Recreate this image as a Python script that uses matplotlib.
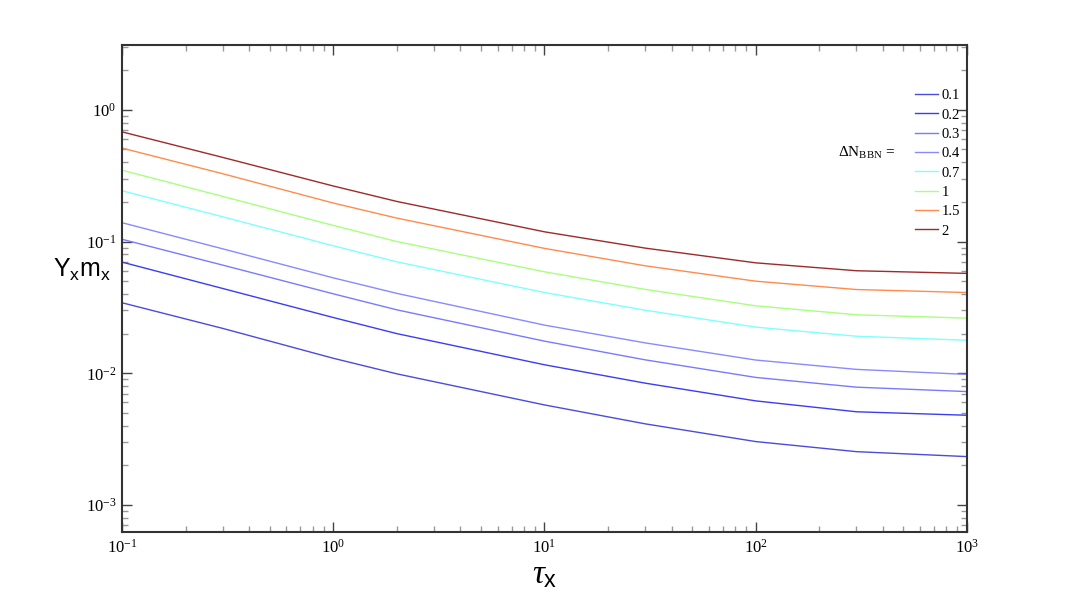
import matplotlib
matplotlib.use("Agg")
import matplotlib.pyplot as plt
import numpy as np
from matplotlib.ticker import LogLocator, FuncFormatter, NullFormatter

plt.rcParams['mathtext.fontset'] = 'custom'
plt.rcParams['mathtext.rm'] = 'Liberation Serif'
plt.rcParams['mathtext.it'] = 'Liberation Serif:italic'
plt.rcParams['mathtext.sf'] = 'Liberation Sans'
plt.rcParams['mathtext.bf'] = 'Liberation Serif:bold'
plt.rcParams['font.family'] = ['Liberation Serif', 'DejaVu Serif']

# Data
tau = [0.1, 0.3, 1, 2, 10, 30, 100, 300, 1000]
delta_n = ['0.1', '0.2', '0.3', '0.4', '0.7', '1', '1.5', '2']
y_01 = [0.0343, 0.0219, 0.0130, 0.0099, 0.00575, 0.00413, 0.00303, 0.00254, 0.00233]
y_02 = [0.0698, 0.0440, 0.0265, 0.0200, 0.0116, 0.00841, 0.00617, 0.0051, 0.0048]
y_03 = [0.104, 0.0662, 0.0401, 0.0303, 0.01753, 0.01264, 0.0093, 0.00784, 0.00726]
y_04 = [0.139, 0.088, 0.053, 0.0404, 0.0232, 0.0170, 0.0126, 0.0107, 0.0098]
y_07 = [0.243, 0.154, 0.0929, 0.0701, 0.041, 0.0301, 0.0224, 0.0191, 0.0178]
y_1 = [0.348, 0.220, 0.1325, 0.100, 0.0589, 0.0433, 0.0325, 0.0278, 0.0262]
y_15 = [0.512, 0.327, 0.196, 0.1506, 0.0887, 0.0654, 0.050, 0.0432, 0.041]
y_2 = [0.68, 0.435, 0.264, 0.2015, 0.1185, 0.0891, 0.0689, 0.060, 0.0573]
series = [y_01, y_02, y_03, y_04, y_07, y_1, y_15, y_2]
colors = ['#4b4bdc', '#3c3cf5', '#7a7aff', '#8a8aff', '#7fffff', '#a8ff80', '#ff8c4c', '#9e2a2a']

fig = plt.figure(figsize=(10.9, 5.99), dpi=100)
ax = fig.add_axes([0.1119, 0.1119, 0.7752, 0.8135])

for lab, ys, c in zip(delta_n, series, colors):
    ax.plot(tau, ys, color=c, lw=1.0, label=lab)

ax.set_xscale('log')
ax.set_yscale('log')
ax.set_xlim(0.1, 1000)
ax.set_ylim(6.24e-4, 3.12)

def fmt(v, pos):
    e = int(round(np.log10(v)))
    return r'$\mathrm{10^{%d}}$' % e

for axis in (ax.xaxis, ax.yaxis):
    axis.set_major_locator(LogLocator(base=10, numticks=20))
    axis.set_minor_locator(LogLocator(base=10, subs=np.arange(2, 10), numticks=20))
    axis.set_major_formatter(FuncFormatter(fmt))
    axis.set_minor_formatter(NullFormatter())

ax.tick_params(which='both', direction='in', top=True, right=True, labelsize=12)
ax.tick_params(which='major', length=7, width=1.0, color='#444444')
ax.tick_params(which='minor', length=4, width=1.0, color='#999999')
ax.tick_params(axis='x', pad=5)
ax.tick_params(axis='y', pad=4)
for s in ax.spines.values():
    s.set_color('#333333')
    s.set_linewidth(1.5)

ax.set_xlabel(r'$\tau_\mathsf{x}$', fontsize=24, labelpad=2)
ax.set_ylabel(r'$\mathsf{Y_x m_x}$', fontsize=18, rotation=0, ha='center', va='center')
ax.yaxis.set_label_coords(-0.047, 0.538)

leg = fig.legend(*ax.get_legend_handles_labels(), loc='upper left',
                 bbox_to_anchor=(915 / 1090, 1 - 89 / 599), bbox_transform=fig.transFigure,
                 frameon=False, fontsize=10.5, handlelength=1.6, handletextpad=0.2,
                 labelspacing=0.42, borderpad=0, borderaxespad=0)
fig.text(838 / 1090, 1 - 157 / 599, r'$\Delta\mathrm{N}_{\mathrm{BBN}}$ =', fontsize=11,
         ha='left', va='baseline')

fig.savefig('out.png', dpi=100)
